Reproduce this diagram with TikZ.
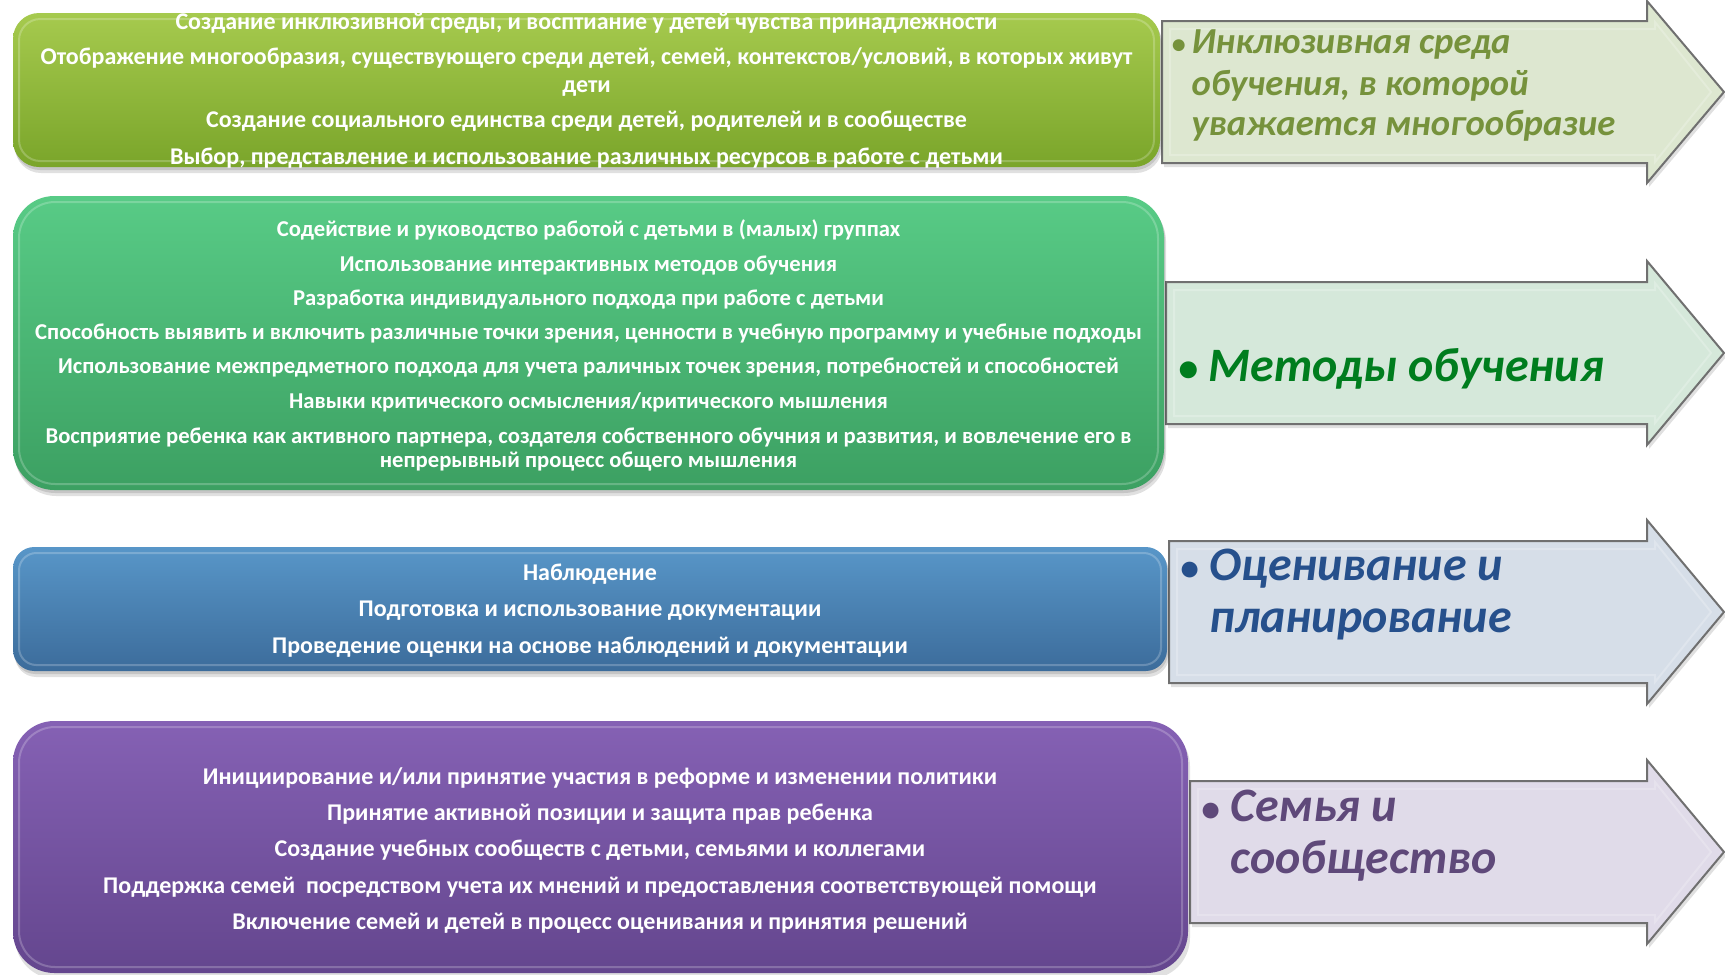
\documentclass[tikz,border=0pt]{standalone}
\usepackage{fontspec}
\setmainfont{Carlito}

\tikzset{every picture/.style={line width=0.75pt}}
\tikzset{
  boxshadow/.style={fill={rgb, 255:red, 0; green, 0; blue, 0 }, fill opacity=0.12, draw=none},
  bevel/.style={draw={rgb, 255:red, 255; green, 255; blue, 255 }, draw opacity=0.22, line width=1.5pt},
  arrowshape/.style={draw={rgb, 255:red, 112; green, 112; blue, 112 }, line width=1.5pt},
  itemtext/.style={anchor=base, inner sep=0.75pt, text=white, font=\fontsize{#1}{20}\selectfont\bfseries},
  headtext/.style={anchor=base west, inner sep=0.75pt, font=\fontsize{#1}{#1}\selectfont\bfseries\itshape}
}

\begin{document}
\begin{tikzpicture}[x=0.75pt,y=0.75pt,yscale=-1,xscale=1]
\path [use as bounding box] (0,0) rectangle (1725,975);

%Shape: Right Arrow [id:dp1]
\draw [boxshadow] (1164,25) -- (1649,25) -- (1649,5) -- (1726,96) -- (1649,187) -- (1649,167) -- (1164,167) -- cycle ;
\draw [arrowshape, fill={rgb, 255:red, 221; green, 231; blue, 208 }] (1162,21) -- (1647,21) -- (1647,1) -- (1724,92) -- (1647,183) -- (1647,163) -- (1162,163) -- cycle ;
\draw [bevel] (1170,29) -- (1655,29) -- (1655,22) -- (1711,92) -- (1655,162) -- (1655,155) -- (1170,155) -- cycle ;
%Shape: Right Arrow [id:dp2]
\draw [boxshadow] (1168,286) -- (1649,286) -- (1649,265) -- (1726,357) -- (1649,449) -- (1649,428) -- (1168,428) -- cycle ;
\draw [arrowshape, fill={rgb, 255:red, 213; green, 232; blue, 218 }] (1166,282) -- (1647,282) -- (1647,261) -- (1724,353) -- (1647,445) -- (1647,424) -- (1166,424) -- cycle ;
\draw [bevel] (1174,290) -- (1655,290) -- (1655,283) -- (1711,353) -- (1655,423) -- (1655,416) -- (1174,416) -- cycle ;
%Shape: Right Arrow [id:dp3]
\draw [boxshadow] (1171,545) -- (1649,545) -- (1649,524) -- (1726,616) -- (1649,708) -- (1649,687) -- (1171,687) -- cycle ;
\draw [arrowshape, fill={rgb, 255:red, 214; green, 222; blue, 232 }] (1169,541) -- (1647,541) -- (1647,520) -- (1724,612) -- (1647,704) -- (1647,683) -- (1169,683) -- cycle ;
\draw [bevel] (1177,549) -- (1655,549) -- (1655,542) -- (1711,612) -- (1655,682) -- (1655,675) -- (1177,675) -- cycle ;
%Shape: Right Arrow [id:dp4]
\draw [boxshadow] (1192,785) -- (1649,785) -- (1649,764) -- (1726,856) -- (1649,948) -- (1649,927) -- (1192,927) -- cycle ;
\draw [arrowshape, fill={rgb, 255:red, 224; green, 219; blue, 233 }] (1190,781) -- (1647,781) -- (1647,760) -- (1724,852) -- (1647,944) -- (1647,923) -- (1190,923) -- cycle ;
\draw [bevel] (1198,789) -- (1655,789) -- (1655,782) -- (1711,852) -- (1655,922) -- (1655,915) -- (1198,915) -- cycle ;

%Rounded Rect [id:dp5]
\draw [boxshadow, rounded corners=19.5pt] (15,17) rectangle (1162,173) ;
\draw [boxshadow, rounded corners=19.5pt] (14,15) rectangle (1161,170) ;
\draw [draw opacity=0, top color={rgb, 255:red, 166; green, 202; blue, 78 }, bottom color={rgb, 255:red, 122; green, 165; blue, 42 }, rounded corners=19.5pt] (13,13) rectangle (1160,167) ;
\draw [bevel, rounded corners=16pt] (19,19) rectangle (1154,161) ;
%Rounded Rect [id:dp6]
\draw [boxshadow, rounded corners=31pt] (15,200) rectangle (1166,496) ;
\draw [boxshadow, rounded corners=31pt] (14,198) rectangle (1165,493) ;
\draw [draw opacity=0, top color={rgb, 255:red, 88; green, 203; blue, 134 }, bottom color={rgb, 255:red, 60; green, 160; blue, 98 }, rounded corners=31pt] (13,196) rectangle (1164,490) ;
\draw [bevel, rounded corners=27pt] (19,202) rectangle (1158,484) ;
%Rounded Rect [id:dp7]
\draw [boxshadow, rounded corners=16pt] (15,551) rectangle (1169,677) ;
\draw [boxshadow, rounded corners=16pt] (14,549) rectangle (1168,674) ;
\draw [draw opacity=0, top color={rgb, 255:red, 88; green, 150; blue, 200 }, bottom color={rgb, 255:red, 60; green, 108; blue, 155 }, rounded corners=16pt] (13,547) rectangle (1167,671) ;
\draw [bevel, rounded corners=13pt] (19,553) rectangle (1161,665) ;
%Rounded Rect [id:dp8]
\draw [boxshadow, rounded corners=31pt] (15,725) rectangle (1190,979) ;
\draw [draw opacity=0, top color={rgb, 255:red, 133; green, 97; blue, 180 }, bottom color={rgb, 255:red, 100; green, 70; blue, 142 }, rounded corners=31pt] (13,721) rectangle (1188,973) ;
\draw [bevel, rounded corners=27pt] (19,727) rectangle (1182,967) ;

% Text Node
\draw (586.5,29.5) node [itemtext=18] (g1) {Создание инклюзивной среды, и восптиание у детей чувства принадлежности};
% Text Node
\draw (586.5,64) node [itemtext=18] (g2) {Отображение многообразия, существующего среди детей, семей, контекстов/условий, в которых живут};
% Text Node
\draw (586.5,92) node [itemtext=18] (g3) {дети};
% Text Node
\draw (586.5,127) node [itemtext=18] (g4) {Создание социального единства среди детей, родителей и в сообществе};
% Text Node
\draw (586.5,164) node [itemtext=18] (g5) {Выбор, представление и использование различных ресурсов в работе с детьми};

% Text Node
\draw (588.5,236) node [itemtext=17] (m1) {Содействие и руководство работой с детьми в (малых) группах};
% Text Node
\draw (588.5,271) node [itemtext=17] (m2) {Использование интерактивных методов обучения};
% Text Node
\draw (588.5,305) node [itemtext=17] (m3) {Разработка индивидуального подхода при работе с детьми};
% Text Node
\draw (588.5,339) node [itemtext=17] (m4) {Способность выявить и включить различные точки зрения, ценности в учебную программу и учебные подходы};
% Text Node
\draw (588.5,373) node [itemtext=17] (m5) {Использование межпредметного подхода для учета раличных точек зрения, потребностей и способностей};
% Text Node
\draw (588.5,408) node [itemtext=17] (m6) {Навыки критического осмысления/критического мышления};
% Text Node
\draw (588.5,443) node [itemtext=17] (m7) {Восприятие ребенка как активного партнера, создателя собственного обучния и развития, и вовлечение его в};
% Text Node
\draw (588.5,467) node [itemtext=17] (m8) {непрерывный процесс общего мышления};

% Text Node
\draw (590,580) node [itemtext=18] (o1) {Наблюдение};
% Text Node
\draw (590,616) node [itemtext=18] (o2) {Подготовка и использование документации};
% Text Node
\draw (590,653) node [itemtext=18] (o3) {Проведение оценки на основе наблюдений и документации};

% Text Node
\draw (600,784) node [itemtext=18] (s1) {Инициирование и/или принятие участия в реформе и изменении политики};
% Text Node
\draw (600,820) node [itemtext=18] (s2) {Принятие активной позиции и защита прав ребенка};
% Text Node
\draw (600,856) node [itemtext=18] (s3) {Создание учебных сообществ с детьми, семьями и коллегами};
% Text Node
\draw (600,893) node [itemtext=18] (s4) {Поддержка семей~ посредством учета их мнений и предоставления соответствующей помощи};
% Text Node
\draw (600,929) node [itemtext=18] (s5) {Включение семей и детей в процесс оценивания и принятия решений};

% Text Node
\draw (1170,53) node [headtext=21, text={rgb, 255:red, 118; green, 146; blue, 60 }] (a1b) {\textbullet};
% Text Node
\draw (1190,53) node [headtext=27.5, text={rgb, 255:red, 118; green, 146; blue, 60 }] (a1l1) {Инклюзивная среда};
% Text Node
\draw (1190,95) node [headtext=27.5, text={rgb, 255:red, 118; green, 146; blue, 60 }] (a1l2) {обучения, в которой};
% Text Node
\draw (1190,135) node [headtext=27.5, text={rgb, 255:red, 118; green, 146; blue, 60 }] (a1l3) {уважается многообразие};
% Text Node
\draw (1177,381) node [headtext=30, text={rgb, 255:red, 0; green, 125; blue, 30 }] (a2b) {\textbullet};
% Text Node
\draw (1207,381) node [headtext=36, text={rgb, 255:red, 0; green, 125; blue, 30 }] (a2l1) {Методы обучения};
% Text Node
\draw (1179,580) node [headtext=28, text={rgb, 255:red, 38; green, 80; blue, 140 }] (a3b) {\textbullet};
% Text Node
\draw (1208,580) node [headtext=36, text={rgb, 255:red, 38; green, 80; blue, 140 }] (a3l1) {Оценивание и};
% Text Node
\draw (1208,632) node [headtext=36, text={rgb, 255:red, 38; green, 80; blue, 140 }] (a3l2) {планирование};
% Text Node
\draw (1200,821) node [headtext=28, text={rgb, 255:red, 95; green, 73; blue, 122 }] (a4b) {\textbullet};
% Text Node
\draw (1229,821) node [headtext=36, text={rgb, 255:red, 95; green, 73; blue, 122 }] (a4l1) {Семья и};
% Text Node
\draw (1229,873) node [headtext=36, text={rgb, 255:red, 95; green, 73; blue, 122 }] (a4l2) {сообщество};

\end{tikzpicture}
\end{document}
